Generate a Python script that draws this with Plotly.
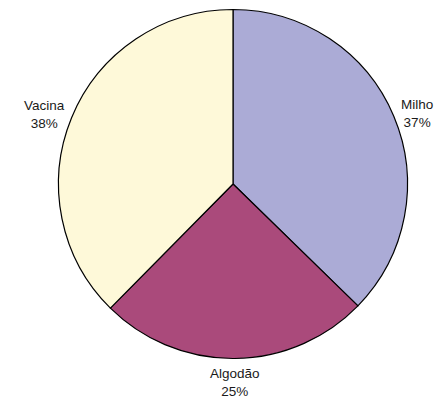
import math
import plotly.graph_objects as go

labels = ["Milho", "Algodão", "Vacina"]
values = [37.3, 25.1, 37.6]
colors = ["#ABABD6", "#AA4A7B", "#FEF9D9"]

W, H = 435, 396
cx, cy, r = 233, 184, 174.5
label_r = 182

fig = go.Figure(go.Pie(
    labels=labels,
    values=values,
    sort=False,
    direction="clockwise",
    rotation=0,
    marker=dict(colors=colors, line=dict(color="#000000", width=1.2)),
    textinfo="none",
    hoverinfo="label+percent",
    domain=dict(x=[(cx - r) / W, (cx + r) / W], y=[1 - (cy + r) / H, 1 - (cy - r) / H]),
    showlegend=False,
))

total = sum(values)
start = 0.0
annotations = []
for lab, v in zip(labels, values):
    span = v / total * 360.0
    mid = math.radians(start + span / 2)
    start += span
    s, c = math.sin(mid), math.cos(mid)
    px = cx + label_r * s
    py = cy - label_r * c
    xanchor = "left" if s > 0.15 else ("right" if s < -0.15 else "center")
    yanchor = "top" if c < -0.7 else ("bottom" if c > 0.7 else "middle")
    annotations.append(dict(
        x=px / W, y=1 - py / H, xref="paper", yref="paper",
        text=f"{lab}<br>{round(v / total * 100)}%",
        showarrow=False, xanchor=xanchor, yanchor=yanchor, align="center",
        borderpad=0, borderwidth=0,
        font=dict(family="Liberation Sans, Arial, sans-serif", size=13.5, color="#1a1a1a"),
    ))

fig.update_layout(
    width=W, height=H,
    margin=dict(l=0, r=0, t=0, b=0),
    paper_bgcolor="white",
    plot_bgcolor="white",
    annotations=annotations,
)
fig.write_html("out.html")
